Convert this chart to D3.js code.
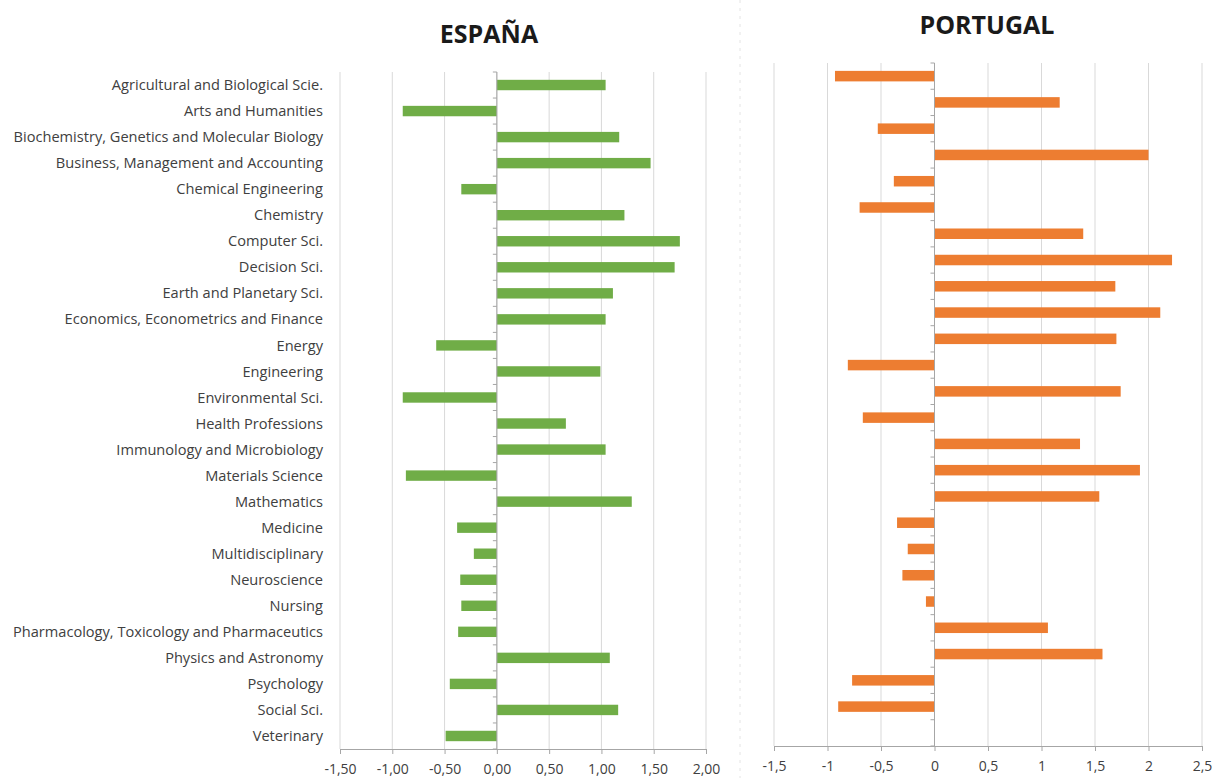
<!DOCTYPE html>
<html>
<head>
<meta charset="utf-8">
<script src="https://cdn.jsdelivr.net/npm/d3@7"></script>
<style>
  body { margin: 0; background: #fff; }
  svg text { font-family: "Open Sans", Lato, sans-serif; }
</style>
</head>
<body>
<svg id="container" width="1215" height="778"></svg>
<script>
let width = 1215,
    height = 778;

let categories = [
    "Agricultural and Biological Scie.", "Arts and Humanities",
    "Biochemistry, Genetics and Molecular Biology", "Business, Management and Accounting",
    "Chemical Engineering", "Chemistry", "Computer Sci.", "Decision Sci.",
    "Earth and Planetary Sci.", "Economics, Econometrics and Finance", "Energy",
    "Engineering", "Environmental Sci.", "Health Professions",
    "Immunology and Microbiology", "Materials Science", "Mathematics", "Medicine",
    "Multidisciplinary", "Neuroscience", "Nursing",
    "Pharmacology, Toxicology and Pharmaceutics", "Physics and Astronomy",
    "Psychology", "Social Sci.", "Veterinary"
]

let espana = [1.04, -0.90, 1.17, 1.47, -0.34, 1.22, 1.75, 1.70, 1.11, 1.04, -0.58,
    0.99, -0.90, 0.66, 1.04, -0.87, 1.29, -0.38, -0.22, -0.35, -0.34, -0.37, 1.08,
    -0.45, 1.16, -0.49]

let portugal = [-0.93, 1.17, -0.53, 2.00, -0.38, -0.70, 1.39, 2.22, 1.69, 2.11, 1.70,
    -0.81, 1.74, -0.67, 1.36, 1.92, 1.54, -0.35, -0.25, -0.30, -0.08, 1.06, 1.57,
    -0.77, -0.90, 0]

let espanaTicks = [-1.5, -1, -0.5, 0, 0.5, 1, 1.5, 2]
let portugalTicks = [-1.5, -1, -0.5, 0, 0.5, 1, 1.5, 2, 2.5]

let svg = d3.select("#container")

// faint divider between the two panels
svg.append("line")
    .attr("x1", 740).attr("x2", 740)
    .attr("y1", 0).attr("y2", height)
    .attr("stroke", "#e4e4e4")
    .attr("stroke-dasharray", "3,5")

function drawPanel(opts) {
    let xScale = d3.scaleLinear()
        .domain([opts.ticks[0], opts.ticks[opts.ticks.length - 1]])
        .range(opts.xRange)
    let yScale = d3.scaleBand()
        .domain(categories)
        .range(opts.yRange)
        .paddingInner(0.6)
        .paddingOuter(0.3)
    let g = svg.append("g")

    // gridlines
    g.selectAll(".grid")
        .data(opts.ticks)
        .enter()
        .append("line")
        .attr("x1", d => xScale(d)).attr("x2", d => xScale(d))
        .attr("y1", opts.yRange[0]).attr("y2", opts.yRange[1])
        .attr("stroke", "#d9d9d9")
        .attr("stroke-width", 1)

    // bars
    g.selectAll(".bar")
        .data(opts.values)
        .enter()
        .append("rect")
        .attr("x", d => xScale(Math.min(0, d)))
        .attr("y", (d, i) => yScale(categories[i]))
        .attr("width", d => Math.abs(xScale(d) - xScale(0)))
        .attr("height", yScale.bandwidth())
        .attr("fill", opts.color)

    // zero axis with small ticks between categories
    let step = yScale.step()
    g.append("line")
        .attr("x1", xScale(0)).attr("x2", xScale(0))
        .attr("y1", opts.yRange[0]).attr("y2", opts.yRange[1])
        .attr("stroke", "#a6a6a6")
    g.selectAll(".ytick")
        .data(d3.range(categories.length + 1))
        .enter()
        .append("line")
        .attr("x1", xScale(0) - 4).attr("x2", xScale(0))
        .attr("y1", i => opts.yRange[0] + i * step)
        .attr("y2", i => opts.yRange[0] + i * step)
        .attr("stroke", "#a6a6a6")

    // bottom axis
    let axis = g.append("g")
        .attr("transform", "translate(0," + opts.yRange[1] + ")")
        .call(d3.axisBottom(xScale)
            .tickValues(opts.ticks)
            .tickSize(5)
            .tickSizeOuter(0)
            .tickPadding(10)
            .tickFormat(opts.format))
    axis.select(".domain").attr("stroke", "#a6a6a6")
    axis.selectAll(".tick line").attr("stroke", "#a6a6a6")
    axis.selectAll(".tick text")
        .attr("fill", "#404040")
        .attr("font-size", "14px")
        .style("font-family", "'Open Sans', sans-serif")

    // title
    svg.append("text")
        .attr("x", opts.titleX)
        .attr("y", opts.titleY)
        .attr("text-anchor", "middle")
        .attr("font-size", "25px")
        .attr("font-weight", 700)
        .attr("fill", "#1a1a1a")
        .style("font-family", "'Open Sans', sans-serif")
        .text(opts.title)

    return yScale
}

let commaFmt2 = d => d3.format(".2f")(d).replace("−", "-").replace(".", ",")
let commaFmt = d => String(d).replace(".", ",")

let yLeft = drawPanel({
    values: espana, ticks: espanaTicks, xRange: [340, 706], yRange: [72, 749],
    color: "#70ad47", format: commaFmt2, title: "ESPAÑA", titleX: 489, titleY: 43
})

drawPanel({
    values: portugal, ticks: portugalTicks, xRange: [774, 1202], yRange: [63, 746],
    color: "#ed7d31", format: commaFmt, title: "PORTUGAL", titleX: 987, titleY: 34
})

// category labels
svg.append("g")
    .selectAll("text")
    .data(categories)
    .enter()
    .append("text")
    .attr("x", 323)
    .attr("y", d => yLeft(d) + yLeft.bandwidth() / 2)
    .attr("dy", "0.35em")
    .attr("text-anchor", "end")
    .attr("font-size", "14.6px")
    .attr("fill", "#404040")
    .text(d => d)
</script>
</body>
</html>
